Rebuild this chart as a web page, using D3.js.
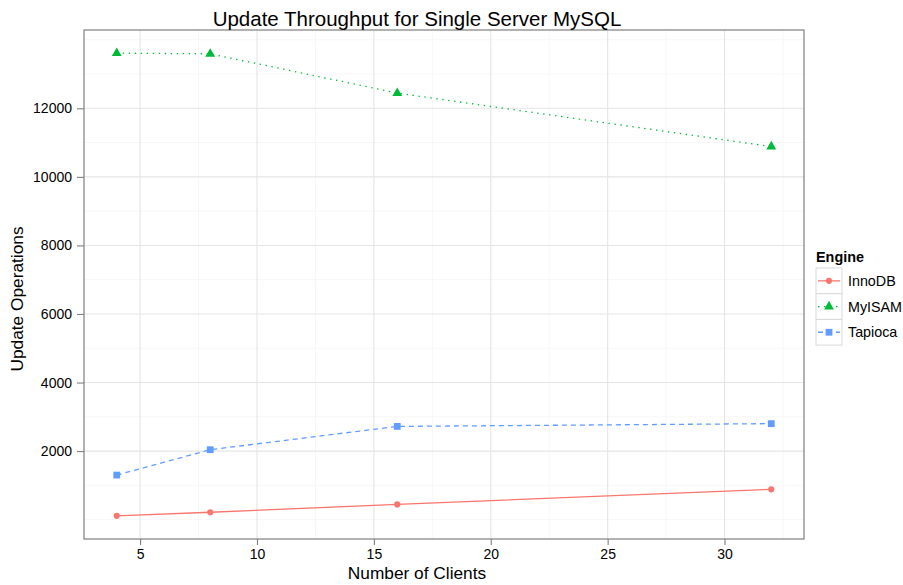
<!DOCTYPE html>
<html>
<head>
<meta charset="utf-8">
<script src="https://cdn.jsdelivr.net/npm/d3@7"></script>
<style>
  body { margin: 0; background: #fff; }
  text { font-family: "Liberation Sans", Arial, Helvetica, sans-serif; }
</style>
</head>
<body>
<div id="chart"></div>
<script>
var w = 903, h = 585; // size of the whole picture
var panel = {left: 84, right: 804, top: 30, bottom: 539}; // plotting panel

// data
var clients = [4, 8, 16, 32];
var engines = ["InnoDB", "MyISAM", "Tapioca"];
var innodb = [110, 215, 445, 885];
var myisam = [13610, 13590, 12445, 10885];
var tapioca = [1300, 2040, 2720, 2800];

var xTicks = [5, 10, 15, 20, 25, 30];
var xMinor = [7.5, 12.5, 17.5, 22.5, 27.5, 32.5];
var yTicks = [2000, 4000, 6000, 8000, 10000, 12000];
var yMinor = [0, 1000, 3000, 5000, 7000, 9000, 11000, 13000, 14000];

var colors = ["#F8766D", "#00BA38", "#619CFF"];
var dashes = [null, "1.4,4.6", "5,4"];
var shapes = [d3.symbolCircle, d3.symbolTriangle, d3.symbolSquare];
var sizes = [30, 42, 46];

var series = [innodb, myisam, tapioca].map(function(vals, i) {
  return {name: engines[i], values: vals.map(function(v, j) { return {x: clients[j], y: v}; })};
});

// ggplot style 5% expansion
var allY = [].concat(innodb, myisam, tapioca);
var yMin = d3.min(allY), yMax = d3.max(allY);
var yPad = (yMax - yMin) * 0.05;
var xPad = (d3.max(clients) - d3.min(clients)) * 0.05;

var x = d3.scaleLinear()
    .domain([d3.min(clients) - xPad, d3.max(clients) + xPad])
    .range([panel.left, panel.right]);
var y = d3.scaleLinear()
    .domain([yMin - yPad, yMax + yPad])
    .range([panel.bottom, panel.top]);

var svg = d3.select("#chart")
    .append("svg")
    .attr("width", w)
    .attr("height", h);

// grid lines, minor first
var grid = svg.append("g");
grid.selectAll(".ymin").data(yMinor.filter(function(d) { return y(d) > panel.top && y(d) < panel.bottom; }))
  .enter().append("line")
    .attr("x1", panel.left).attr("x2", panel.right)
    .attr("y1", function(d) { return y(d); }).attr("y2", function(d) { return y(d); })
    .attr("stroke", "#f7f7f7").attr("stroke-width", 1);
grid.selectAll(".xmin").data(xMinor.filter(function(d) { return x(d) > panel.left && x(d) < panel.right; }))
  .enter().append("line")
    .attr("y1", panel.top).attr("y2", panel.bottom)
    .attr("x1", function(d) { return x(d); }).attr("x2", function(d) { return x(d); })
    .attr("stroke", "#f7f7f7").attr("stroke-width", 1);
grid.selectAll(".ymaj").data(yTicks)
  .enter().append("line")
    .attr("x1", panel.left).attr("x2", panel.right)
    .attr("y1", function(d) { return y(d); }).attr("y2", function(d) { return y(d); })
    .attr("stroke", "#e5e5e5").attr("stroke-width", 1.1);
grid.selectAll(".xmaj").data(xTicks)
  .enter().append("line")
    .attr("y1", panel.top).attr("y2", panel.bottom)
    .attr("x1", function(d) { return x(d); }).attr("x2", function(d) { return x(d); })
    .attr("stroke", "#e5e5e5").attr("stroke-width", 1.1);

// lines and points
var line = d3.line()
    .x(function(d) { return x(d.x); })
    .y(function(d) { return y(d.y); });

series.forEach(function(s, i) {
  svg.append("path")
    .datum(s.values)
    .attr("d", line)
    .attr("fill", "none")
    .attr("stroke", colors[i])
    .attr("stroke-width", 1.3)
    .attr("stroke-dasharray", dashes[i]);
  svg.selectAll(".pt" + i).data(s.values)
    .enter().append("path")
    .attr("d", d3.symbol().type(shapes[i]).size(sizes[i]))
    .attr("transform", function(d) { return "translate(" + x(d.x) + "," + y(d.y) + ")"; })
    .attr("fill", colors[i]);
});

// panel border
svg.append("rect")
    .attr("x", panel.left).attr("y", panel.top)
    .attr("width", panel.right - panel.left).attr("height", panel.bottom - panel.top)
    .attr("fill", "none").attr("stroke", "#7f7f7f").attr("stroke-width", 1.2);

// axes
var xAxis = svg.append("g")
    .attr("transform", "translate(0," + panel.bottom + ")")
    .call(d3.axisBottom(x).tickValues(xTicks).tickSize(6).tickPadding(4));
var yAxis = svg.append("g")
    .attr("transform", "translate(" + panel.left + ",0)")
    .call(d3.axisLeft(y).tickValues(yTicks).tickFormat(d3.format("d")).tickSize(7).tickPadding(5));
[xAxis, yAxis].forEach(function(a) {
  a.select(".domain").remove();
  a.selectAll(".tick line").attr("stroke", "#7f7f7f").attr("stroke-width", 1.1);
  a.selectAll(".tick text").attr("fill", "#000").style("font-size", "14px")
    .style("font-family", "'Liberation Sans', Arial, sans-serif");
});

// titles
svg.append("text")
    .attr("x", 417).attr("y", 26)
    .attr("text-anchor", "middle")
    .style("font-size", "20.5px")
    .text("Update Throughput for Single Server MySQL");
svg.append("text")
    .attr("x", 417).attr("y", 579)
    .attr("text-anchor", "middle")
    .style("font-size", "17.3px")
    .text("Number of Clients");
svg.append("text")
    .attr("transform", "translate(22.5,299) rotate(-90)")
    .attr("text-anchor", "middle")
    .style("font-size", "17.3px")
    .text("Update Operations");

// legend
var legend = svg.append("g").attr("transform", "translate(816,0)");
legend.append("text")
    .attr("x", 0).attr("y", 262)
    .style("font-size", "14.4px").style("font-weight", "bold")
    .text("Engine");
var keyH = 25.7, keyW = 26, key0 = 268;
engines.forEach(function(name, i) {
  var g = legend.append("g").attr("transform", "translate(0," + (key0 + i * keyH) + ")");
  g.append("rect")
    .attr("width", keyW).attr("height", keyH)
    .attr("fill", "#fff").attr("stroke", "#d9d9d9").attr("stroke-width", 1);
  g.append("line")
    .attr("x1", 2).attr("x2", keyW - 2)
    .attr("y1", keyH / 2).attr("y2", keyH / 2)
    .attr("stroke", colors[i]).attr("stroke-width", 1.3)
    .attr("stroke-dasharray", dashes[i]);
  g.append("path")
    .attr("d", d3.symbol().type(shapes[i]).size(sizes[i]))
    .attr("transform", "translate(" + keyW / 2 + "," + keyH / 2 + ")")
    .attr("fill", colors[i]);
  g.append("text")
    .attr("x", 32).attr("y", keyH / 2 + 5)
    .style("font-size", "14.3px")
    .text(name);
});
</script>
</body>
</html>
